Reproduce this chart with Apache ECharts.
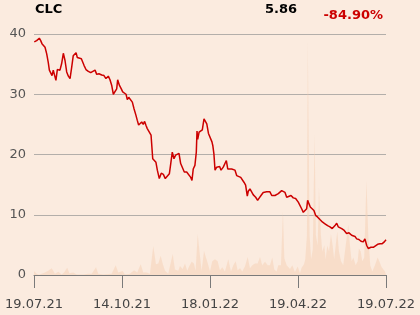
<!DOCTYPE html>
<html>
<head>
<meta charset="utf-8">
<script src="https://cdn.jsdelivr.net/npm/echarts@6/dist/echarts.min.js"></script>
<style>
html,body{margin:0;padding:0;background:#fbebdf;}
#chart{width:420px;height:315px;}
</style>
</head>
<body>
<div id="chart"></div>
<script>
// Header
var ticker = "CLC";
var lastPrice = "5.86";
var changePct = "-84.90%";

// X-axis tick labels (every 63 trading days)
var tickLabels = ["19.07.21", "14.10.21", "18.01.22", "19.04.22", "19.07.22"];
var tickStep = 63;

// Price series: trading-day index and close
var priceDays = [0.2,0.9,1.9,3.8,4.8,5.7,6.9,7.9,9.1,10.2,11.0,12.0,12.9,13.8,14.8,15.7,16.7,17.7,18.6,19.8,21.0,22.2,23.4,24.6,25.8,27.0,28.1,30.1,31.0,32.4,33.9,34.9,35.8,37.2,38.9,40.6,42.0,43.7,44.9,46.5,48.5,50.1,51.5,53.2,54.4,55.6,56.8,58.0,59.2,59.9,61.1,62.5,63.5,64.6,65.9,66.8,67.8,69.2,70.4,71.6,73.0,73.9,74.9,75.9,77.1,78.2,79.2,80.2,81.1,82.5,83.8,85.0,86.1,87.3,88.3,89.7,91.1,92.6,94.0,95.4,96.9,97.9,99.0,100.2,101.4,102.6,103.8,105.0,106.2,107.6,109.3,110.7,112.2,113.1,114.0,115.2,116.2,116.7,117.2,118.2,119.4,120.5,121.7,122.7,123.7,124.9,126.0,127.4,128.0,128.8,129.6,130.8,131.9,132.9,133.9,135.5,136.7,137.7,138.7,140.1,141.5,142.7,143.9,145.1,146.2,148.0,149.1,150.3,151.5,152.7,153.4,154.6,155.8,157.0,157.7,158.7,160.1,161.3,162.5,164.1,165.4,166.6,167.7,168.9,170.2,171.3,172.5,173.7,174.9,176.1,177.3,178.5,179.7,180.9,182.0,184.0,185.6,187.3,189.2,190.4,191.6,192.8,194.0,195.2,195.9,196.9,197.8,199.2,200.4,201.6,203.1,204.7,206.4,208.3,210.2,211.9,213.5,215.5,216.7,217.8,219.0,220.3,222.1,223.8,225.5,227.4,229.8,231.0,232.6,234.1,235.7,236.9,238.2,239.3,241.2,242.9,244.1,246.0,247.7,249.3,250.8,252];
var priceValues = [38.7,38.4,38.9,39.3,38.9,38.4,38.4,37.8,36.7,35.3,34.0,33.7,33.1,34.0,33.1,32.3,34.1,34.1,34.0,35.1,36.8,35.6,33.7,33.0,32.6,34.5,36.4,36.9,36.1,35.9,35.9,35.6,34.8,34.1,33.8,33.6,33.8,34.0,33.3,33.4,33.2,33.1,32.6,33.0,32.4,31.5,30.0,30.0,30.9,32.4,31.5,30.9,30.4,30.5,30.0,29.1,29.5,29.4,28.7,27.6,26.5,25.7,24.9,25.1,25.4,25.0,25.5,24.8,24.3,24.1,23.2,19.3,19.3,18.7,17.4,16.0,16.9,16.7,16.0,16.0,16.8,18.5,20.4,19.3,19.9,20.1,20.2,18.5,18.2,17.1,17.1,16.8,16.2,15.7,17.6,18.2,20.4,23.9,22.5,23.7,23.9,24.1,25.9,26.2,25.1,23.5,23.2,22.1,21.5,20.1,17.4,17.9,17.8,18.0,17.4,17.9,18.5,19.0,17.6,17.7,17.6,17.7,17.4,16.5,16.2,16.2,16.0,15.4,14.9,13.1,13.9,14.3,14.0,13.3,13.5,12.9,12.4,12.8,13.2,13.7,13.5,13.8,13.5,13.8,13.2,12.9,13.2,13.3,13.5,13.7,14.0,13.9,13.7,12.9,13.1,13.2,12.8,12.7,12.1,11.8,11.0,10.4,10.3,11.0,12.4,11.8,11.3,11.3,10.7,9.9,9.6,9.2,8.8,8.5,8.2,8.0,7.7,8.2,8.6,8.0,8.0,7.7,7.4,6.9,7.0,6.6,6.4,6.0,5.9,5.6,5.5,6.0,4.9,4.4,4.6,4.6,4.9,5.1,5.2,5.2,5.5,5.86];

// Volume series (chart units): trading-day index and volume
var volumeDays = [0,1.9,3.6,7.9,10.2,11.5,12.7,13.6,15.0,17.4,19.8,21.5,23.8,25.3,28.1,30.6,35.3,38.9,41.3,44.4,46.0,49.6,55.6,58.5,60.3,63.5,65.1,68.7,71.6,73.9,76.4,78.2,80.7,81.8,83.0,85.4,87.3,89.0,90.7,92.1,93.8,96.1,99.3,100.9,103.3,104.5,106.4,108.1,109.7,111.2,112.9,114.5,115.7,117.2,118.8,120.0,121.7,123.1,124.6,126.0,127.6,129.6,131.5,133.1,134.8,136.7,139.1,141.0,142.7,144.4,145.8,147.5,149.1,151.0,153.0,154.6,156.3,158.2,160.1,161.8,163.4,165.4,167.3,168.9,170.6,172.0,173.7,174.9,176.8,178.2,179.2,180.9,183.3,184.9,186.8,188.8,190.4,191.6,193.3,194.2,195.4,196.0,196.6,197.3,198.4,199.6,200.9,201.3,201.8,203.1,204.0,204.4,205.4,206.4,207.8,208.8,210.0,211.2,212.6,213.8,214.9,216.0,217.1,218.3,219.8,221.4,223.8,225.0,226.2,227.4,228.6,230.3,231.7,232.6,233.9,235.0,236.4,238.0,238.4,239.3,240.7,242.2,244.1,246.0,247.2,248.9,251.3,252];
var volumeValues = [0.66,0.2,0.05,0.4,0.7,0.9,1.1,0.9,0.2,0.55,0.1,0.4,1.2,0.3,0.4,0.1,0.1,0.2,0.2,1.3,0.2,0.1,0.2,1.6,0.4,0.66,0.1,0.2,0.8,0.4,1.8,0.4,0.4,0.6,0.2,4.8,1.8,1.9,3.2,1.9,0.7,0.2,3.5,0.9,0.7,1.5,1.0,1.9,0.7,1.5,2.2,1.9,0.7,6.75,3.2,0.7,4.0,4.3,1.8,0.6,2.3,2.6,2.3,0.8,1.3,0.6,2.6,0.6,1.6,2.3,0.8,1.1,0.6,1.4,3.0,1.1,1.6,1.9,1.9,3.0,1.6,2.2,1.6,1.6,2.9,0.9,0.6,1.6,1.6,10.5,2.8,1.6,1.0,1.6,0.5,1.4,0.3,1.2,1.8,2.6,6.6,38.8,38.8,6.6,2.6,4.3,23.3,23.3,6.6,4.9,14.5,14.5,6.6,3.9,4.9,2.6,4.9,3.9,6.75,4.9,2.6,4.9,7.2,3.9,2.3,1.6,6.1,8.4,4.9,2.3,2.9,1.6,2.3,4.4,3.9,2.3,2.9,15.6,15.6,6.6,1.6,0.6,1.6,2.9,2.3,1.3,0.6,0.5];

function pairs(xs, ys){ return xs.map(function(x,i){ return [x, ys[i]]; }); }

var chart = echarts.init(document.getElementById('chart'), null, {renderer:'canvas'});
var fontFam = '"DejaVu Sans", Verdana, sans-serif';
chart.setOption({
  backgroundColor: '#fbebdf',
  animation: false,
  grid: {left: 34, right: 34, top: 34, bottom: 40, containLabel: false},
  xAxis: {
    type: 'value', min: 0, max: 252, interval: tickStep,
    axisLine: {show: true, lineStyle: {color: '#7a7a7a', width: 1}},
    axisTick: {show: true, length: 13, lineStyle: {color: '#7a7a7a', width: 1}},
    splitLine: {show: false},
    axisLabel: {
      show: true, margin: 23, color: '#444', fontSize: 13, fontFamily: fontFam,
      showMinLabel: true, showMaxLabel: true,
      formatter: function(v){ var k = Math.round(v / tickStep); return tickLabels[k] || ''; }
    }
  },
  yAxis: {
    type: 'value', min: 0, max: 40, interval: 10,
    axisLine: {show: false}, axisTick: {show: false},
    splitLine: {show: true, lineStyle: {color: '#b3aeaa', width: 1}},
    axisLabel: {color: '#555', fontSize: 13, fontFamily: fontFam, margin: 8}
  },
  series: [
    {
      name: 'Volume', type: 'line', data: pairs(volumeDays, volumeValues),
      symbol: 'none', lineStyle: {width: 0}, z: 1,
      areaStyle: {color: 'rgba(245,208,180,0.72)'}
    },
    {
      name: 'Price', type: 'line', data: pairs(priceDays, priceValues),
      symbol: 'none', z: 3,
      lineStyle: {color: '#cc0000', width: 1.5}
    }
  ],
  graphic: [
    {type: 'text', left: 35, top: 3, style: {text: ticker, font: 'bold 13px ' + fontFam, fill: '#000'}},
    {type: 'text', right: 123, top: 3, style: {text: lastPrice, font: 'bold 13px ' + fontFam, fill: '#000'}},
    {type: 'text', right: 37, top: 9, style: {text: changePct, font: 'bold 13px ' + fontFam, fill: '#cc0000'}}
  ]
});
</script>
</body>
</html>
